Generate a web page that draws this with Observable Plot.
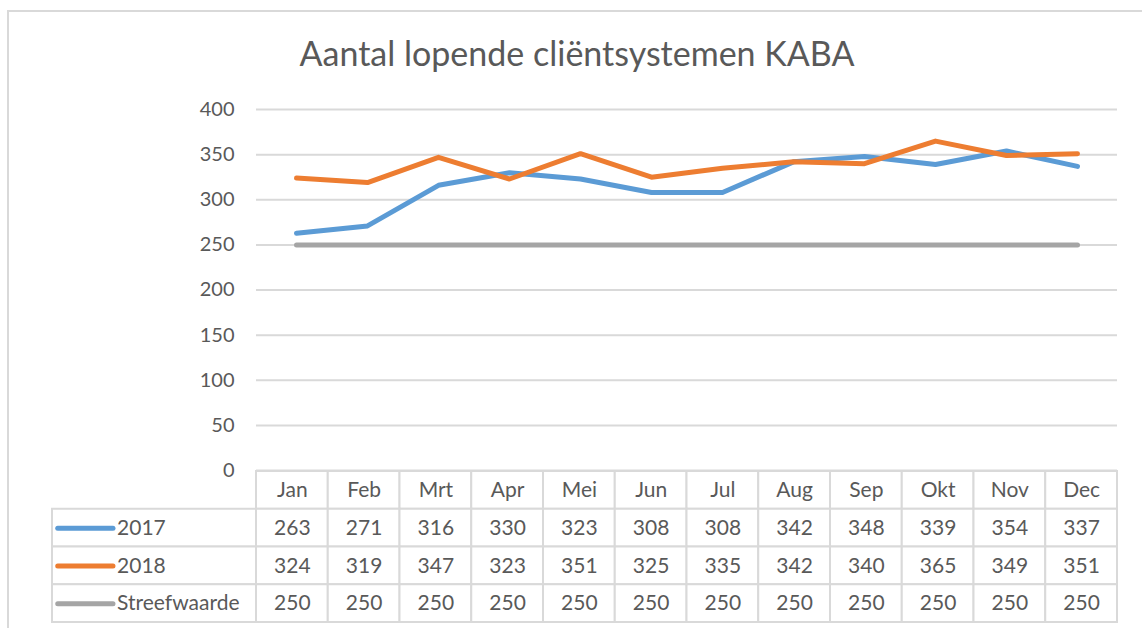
<!DOCTYPE html>
<html>
<head>
<meta charset="utf-8">
<script src="https://cdn.jsdelivr.net/npm/d3@7"></script>
<script src="https://cdn.jsdelivr.net/npm/@observablehq/plot@0.6"></script>
<style>
  html, body { margin: 0; padding: 0; background: #fff; }
  body { width: 1142px; height: 628px; position: relative; overflow: hidden; font-family: Lato, "Open Sans", sans-serif; }
  #frame { position: absolute; left: 7px; top: 10px; width: 1200px; height: 700px; border-top: 2px solid #d9d9d9; border-left: 2px solid #d9d9d9; }
  #title { position: absolute; left: 6px; top: 32px; width: 1142px; text-align: center; font-size: 34px; color: #595959; }
  #chart { position: absolute; left: 0; top: 0; }
  #table { position: absolute; left: 0; top: 470px; }
</style>
</head>
<body>
<div id="frame"></div>
<div id="title">Aantal lopende cliëntsystemen KABA</div>
<div id="chart"></div>
<div id="table"></div>
<script>
const months = ["Jan","Feb","Mrt","Apr","Mei","Jun","Jul","Aug","Sep","Okt","Nov","Dec"];
const series = ["2017","2018","Streefwaarde"];
const values2017 = [263,271,316,330,323,308,308,342,348,339,354,337];
const values2018 = [324,319,347,323,351,325,335,342,340,365,349,351];
const valuesTarget = [250,250,250,250,250,250,250,250,250,250,250,250];
const colors = ["#5b9bd5","#ed7d31","#a5a5a5"];
const yTicks = [0,50,100,150,200,250,300,350,400];

const seriesValues = [values2017, values2018, valuesTarget];
const data = [];
series.forEach((s, si) => months.forEach((m, mi) => data.push({series: s, month: m, value: seriesValues[si][mi]})));

const font = "Lato, 'Open Sans', sans-serif";
const textColor = "#595959";
const gridColor = "#d9d9d9";

const chart = Plot.plot({
  width: 1142,
  height: 472,
  marginTop: 109,
  marginBottom: 2,
  marginLeft: 256,
  marginRight: 25,
  style: {fontFamily: font, fontSize: "20px", color: textColor, background: "transparent", overflow: "visible"},
  x: {type: "point", domain: months, padding: 0.5, axis: null},
  y: {domain: [0, 400], ticks: yTicks, tickSize: 0, tickPadding: 22, label: null, tickFormat: d => String(d)},
  color: {domain: series, range: colors},
  marks: [
    Plot.ruleY(yTicks, {stroke: gridColor, strokeWidth: 2}),
    Plot.line(data, {x: "month", y: "value", z: "series", stroke: "series", strokeWidth: 5, strokeLinejoin: "round", strokeLinecap: "round"})
  ]
});
document.getElementById("chart").append(chart);

// Data table below the chart
const labelUnits = 204 / 71.75; // width of legend column in month-column units
const cells = [];
months.forEach((m, i) => cells.push({x1: i, x2: i + 1, y1: 0, y2: 1, text: m}));
series.forEach((s, si) => {
  cells.push({x1: -labelUnits, x2: 0, y1: si + 1, y2: si + 2, text: null});
  months.forEach((m, i) => cells.push({x1: i, x2: i + 1, y1: si + 1, y2: si + 2, text: String(seriesValues[si][i])}));
});

const table = Plot.plot({
  width: 1142,
  height: 158,
  marginTop: 1,
  marginBottom: 6,
  marginLeft: 52,
  marginRight: 25,
  style: {fontFamily: font, fontSize: "21px", color: textColor, background: "transparent", overflow: "visible"},
  x: {domain: [-labelUnits, 12], axis: null},
  y: {domain: [4, 0], axis: null},
  color: {domain: series, range: colors},
  marks: [
    Plot.rect(cells, {x1: "x1", x2: "x2", y1: "y1", y2: "y2", fill: "white", stroke: gridColor, strokeWidth: 2}),
    Plot.text(cells.filter(d => d.text), {x: d => (d.x1 + d.x2) / 2, y: d => (d.y1 + d.y2) / 2, text: "text", fill: textColor, fontSize: 21}),
    Plot.ruleY(series, {y: (d, i) => i + 1.5, x1: -labelUnits + 0.08, x2: -labelUnits + 0.85, stroke: d => d, strokeWidth: 5, strokeLinecap: "round"}),
    Plot.text(series, {x: -labelUnits + 0.9, y: (d, i) => i + 1.5, text: d => d, textAnchor: "start", fill: textColor, fontSize: 21})
  ]
});
document.getElementById("table").append(table);
</script>
</body>
</html>
